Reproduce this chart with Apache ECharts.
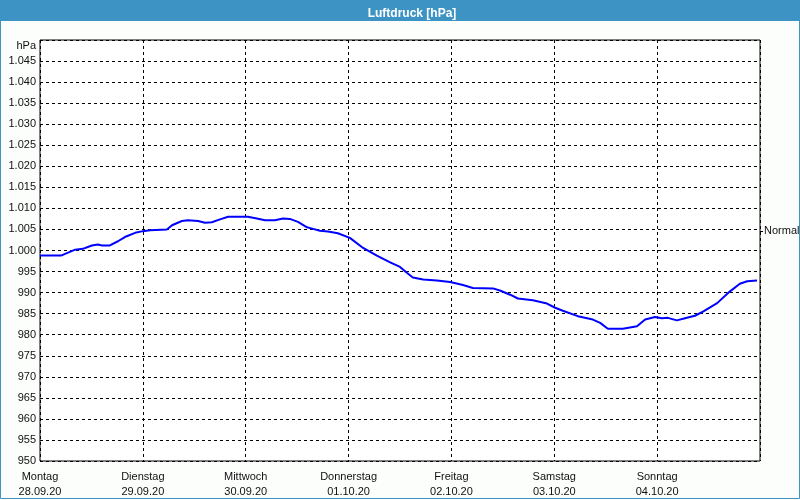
<!DOCTYPE html>
<html>
<head>
<meta charset="utf-8">
<script src="https://cdn.jsdelivr.net/npm/echarts@6/dist/echarts.min.js"></script>
<style>
html,body{margin:0;padding:0;background:#fcfefc;}
#c{width:800px;height:500px;}
</style>
</head>
<body>
<div id="c"></div>
<script>
var titleText = 'Luftdruck [hPa]';
var dayNames = ['Montag','Dienstag','Mittwoch','Donnerstag','Freitag','Samstag','Sonntag'];
var dayDates = ['28.09.20','29.09.20','30.09.20','01.10.20','02.10.20','03.10.20','04.10.20'];
var yTickLabels = ['950','955','960','965','970','975','980','985','990','995','1.000','1.005','1.010','1.015','1.020','1.025','1.030','1.035','1.040','1.045'];
var normalValue = [1004.6];
var normalLabel = 'Normal';
var hours = [0,4.9,8.2,10.0,12.1,13.5,14.5,16.3,18.2,19.8,22.2,24.0,25.7,29.6,30.8,33.1,34.5,36.9,38.5,40.1,42.0,43.9,48.5,50.6,52.5,54.8,56.7,58.3,60.2,62.3,63.5,65.3,67.2,69.5,72.3,75.4,78.6,81.7,84.0,85.6,87.0,89.4,92.6,95.7,98.7,101.0,105.7,107.3,109.7,111.5,115.0,118.3,120.2,122.0,125.5,129.0,130.7,132.5,136.0,139.3,141.2,143.5,145.1,146.5,148.6,150.5,152.8,154.7,158.0,161.0,163.3,165.0,167.3];
var pressure = [998.8,998.8,1000.2,1000.4,1001.2,1001.4,1001.2,1001.2,1002.2,1003.2,1004.2,1004.6,1004.8,1005.0,1006.0,1007.0,1007.2,1007.0,1006.6,1006.7,1007.4,1008.0,1008.0,1007.6,1007.2,1007.2,1007.6,1007.5,1006.8,1005.5,1005.2,1004.7,1004.5,1004.1,1003.0,1000.6,998.8,997.2,996.1,994.7,993.6,993.1,992.9,992.5,991.8,991.1,991.0,990.5,989.5,988.6,988.2,987.4,986.4,985.7,984.4,983.6,982.8,981.4,981.4,982.0,983.6,984.2,983.9,984.0,983.4,983.9,984.5,985.5,987.5,990.3,992.1,992.7,992.9];

var seriesData = hours.map(function(h,i){return [h, pressure[i]];});
var font = '"Liberation Sans", Arial, sans-serif';
var txt = '#101010';

var chart = echarts.init(document.getElementById('c'), null, {renderer:'canvas'});
chart.setOption({
  backgroundColor:'#fcfefc',
  animation:false,
  title:{
    text:titleText, left:407, top:3, textAlign:'center',
    textStyle:{color:'#ffffff', fontSize:12, fontWeight:'bold', fontFamily:font}
  },
  graphic:[
    {type:'rect', z:-1, shape:{x:0,y:0,width:800,height:21}, style:{fill:'#3d93c4'}},
    {type:'rect', z:-1, shape:{x:0.5,y:0.5,width:799,height:498}, style:{fill:null, stroke:'#3d93c4', lineWidth:1}}
  ],
  grid:{left:40, right:40, top:40, bottom:39, show:true, borderColor:'#000', borderWidth:1, backgroundColor:'#ffffff', outerBoundsMode:'none', containLabel:false},
  xAxis:{
    type:'value', min:0, max:168, interval:24,
    axisLine:{show:false}, axisTick:{show:false},
    splitLine:{show:true, lineStyle:{color:'#000', type:[3,3], width:1}},
    axisLabel:{
      color:txt, fontSize:11, fontFamily:font, lineHeight:15, margin:8,
      showMaxLabel:true,
      formatter:function(v){var i=Math.round(v/24); return i<dayNames.length ? dayNames[i]+'\n'+dayDates[i] : '';}
    }
  },
  yAxis:[{
    type:'value', min:950, max:1050, interval:5,
    name:'hPa', nameLocation:'end', nameGap:-6,
    nameTextStyle:{color:txt, fontSize:11, fontFamily:font, align:'right', verticalAlign:'middle', padding:[0,4,0,0]},
    axisLine:{show:false}, axisTick:{show:false},
    splitLine:{show:true, lineStyle:{color:'#000', type:[3,3], width:1}},
    axisLabel:{
      color:txt, fontSize:11, fontFamily:font, margin:4, showMaxLabel:true,
      formatter:function(v){var i=Math.round((v-950)/5); return i<yTickLabels.length ? yTickLabels[i] : '';}
    }
  },{
    type:'value', min:950, max:1050, position:'right',
    axisLine:{show:false}, splitLine:{show:false},
    axisTick:{show:true, inside:false, length:3, customValues:normalValue, lineStyle:{color:'#000'}},
    axisLabel:{show:true, customValues:normalValue, margin:4, color:txt, fontSize:11, fontFamily:font, formatter:function(){return normalLabel;}}
  }],
  series:[{
    type:'line', data:seriesData, yAxisIndex:0, showSymbol:false, symbol:'none',
    lineStyle:{color:'#0000ff', width:2}, itemStyle:{color:'#0000ff'}
  }]
});
</script>
</body>
</html>
